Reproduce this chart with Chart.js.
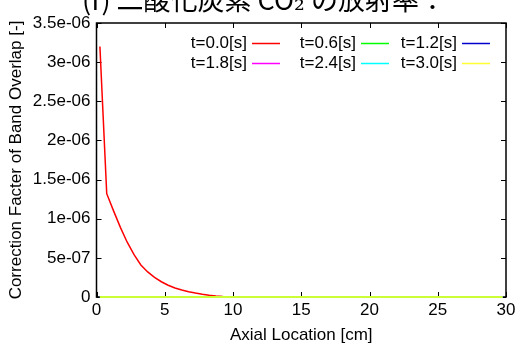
<!DOCTYPE html>
<html>
<head>
<meta charset="utf-8">
<script src="https://cdn.jsdelivr.net/npm/chart.js@4.4.0/dist/chart.umd.min.js"></script>
<style>
  html, body { margin: 0; padding: 0; background: #fff; }
  #wrap { width: 521px; height: 347px; position: relative; }
</style>
</head>
<body>
<div id="wrap"><canvas id="bandChart"></canvas></div>
<script>
// axial positions [cm]
const axialPos = [];
for (let k = 0; k < 60; k++) axialPos.push(0.25 + 0.5 * k);

// correction factor at t=0.0 s, nonzero only near the inlet
const corrT00 = [
  3.2e-6, 1.32e-6, 1.10e-6, 0.89e-6, 0.70e-6, 0.54e-6, 0.41e-6, 0.32e-6,
  0.25e-6, 0.195e-6, 0.150e-6, 0.115e-6, 0.090e-6, 0.068e-6, 0.050e-6,
  0.034e-6, 0.023e-6, 0.014e-6, 0.007e-6, 0.002e-6
];
// later times are zero along the whole tube
const corrZero = axialPos.map(() => 0);

const seriesLabels = ['t=0.0[s]', 't=0.6[s]', 't=1.2[s]', 't=1.8[s]', 't=2.4[s]', 't=3.0[s]'];
const seriesColors = ['#ff0000', '#00ff00', '#0000cc', '#ff00ff', '#00ffff', 'rgba(255,255,0,0.8)'];

const yTickLabels = ['0', '5e-07', '1e-06', '1.5e-06', '2e-06', '2.5e-06', '3e-06', '3.5e-06'];
const xTickLabels = ['0', '5', '10', '15', '20', '25', '30'];

const titleText = '(f) 二酸化炭素 CO₂ の放射率：';

function pts(vals) {
  return axialPos.map((x, i) => ({ x: x, y: i < vals.length ? vals[i] : 0 }));
}
const seriesValues = [corrT00, corrZero, corrZero, corrZero, corrZero, corrZero];

const FONT = '"Liberation Sans", Arial, sans-serif';

// box frame with inward ticks on all four sides, gnuplot style
const frameTicks = {
  id: 'frameTicks',
  beforeDatasetsDraw(chart) {
    const { ctx, chartArea: a, scales } = chart;
    ctx.save();
    ctx.strokeStyle = '#000';
    ctx.lineWidth = 1;
    const len = 5;
    scales.x.ticks.forEach(t => {
      const px = Math.round(scales.x.getPixelForValue(t.value)) + 0.5;
      ctx.beginPath();
      ctx.moveTo(px, a.bottom); ctx.lineTo(px, a.bottom - len);
      ctx.moveTo(px, a.top); ctx.lineTo(px, a.top + len);
      ctx.stroke();
    });
    scales.y.ticks.forEach(t => {
      const py = Math.round(scales.y.getPixelForValue(t.value)) + 0.5;
      ctx.beginPath();
      ctx.moveTo(a.left, py); ctx.lineTo(a.left + len, py);
      ctx.moveTo(a.right, py); ctx.lineTo(a.right - len, py);
      ctx.stroke();
    });
    ctx.lineWidth = 1.5;
    ctx.strokeRect(a.left, a.top, a.right - a.left, a.bottom - a.top);
    ctx.restore();
  }
};

// legend inside the plot: label then a short line sample, 3 columns x 2 rows
const keyBox = {
  id: 'keyBox',
  afterDatasetsDraw(chart) {
    const { ctx } = chart;
    const colRight = [247, 356, 457];
    const rowY = [43, 63];
    ctx.save();
    ctx.font = '17px ' + FONT;
    ctx.textAlign = 'right';
    ctx.textBaseline = 'middle';
    chart.data.datasets.forEach((ds, i) => {
      const c = i % 3, r = Math.floor(i / 3);
      const x = colRight[c], y = rowY[r];
      ctx.fillStyle = '#000';
      ctx.fillText(ds.label, x, y);
      ctx.strokeStyle = ds.borderColor;
      ctx.lineWidth = 1.5;
      ctx.beginPath();
      ctx.moveTo(x + 5, y + 0.5);
      ctx.lineTo(x + 33, y + 0.5);
      ctx.stroke();
    });
    ctx.restore();
  }
};

// heading sits partly above the canvas edge
const heading = {
  id: 'heading',
  afterDraw(chart) {
    const { ctx } = chart;
    ctx.save();
    ctx.font = '27px "Noto Sans CJK JP", "DejaVu Serif", serif';
    ctx.fillStyle = '#000';
    ctx.textAlign = 'left';
    ctx.textBaseline = 'alphabetic';
    ctx.fillText(titleText, 82, 10);
    ctx.restore();
  }
};

new Chart(document.getElementById('bandChart'), {
  type: 'line',
  data: {
    datasets: seriesValues.map((vals, i) => ({
      label: seriesLabels[i],
      data: pts(vals),
      borderColor: seriesColors[i],
      borderWidth: i === 0 ? 1.5 : 2,
      pointRadius: 0,
      tension: 0,
      fill: false,
      clip: false,
      // later series are drawn over earlier ones, t=3.0 ends up on top
      order: seriesLabels.length - i
    }))
  },
  options: {
    responsive: true,
    maintainAspectRatio: false,
    animation: false,
    layout: { padding: { top: 23, right: 15, left: 0, bottom: 0 } },
    plugins: {
      legend: { display: false },
      tooltip: { enabled: false }
    },
    scales: {
      x: {
        type: 'linear',
        min: 0,
        max: 30,
        afterFit(s) { s.height = 50; },
        afterBuildTicks(s) { s.ticks = xTickLabels.map(v => ({ value: Number(v) })); },
        grid: { display: false, drawTicks: false },
        border: { display: false },
        ticks: {
          padding: 3,
          color: '#000',
          font: { family: FONT, size: 17 },
          callback: (v, i) => xTickLabels[i]
        },
        title: {
          display: true,
          text: 'Axial Location [cm]',
          color: '#000',
          font: { family: FONT, size: 17 },
          padding: { top: 1, bottom: 1 }
        }
      },
      y: {
        type: 'linear',
        min: 0,
        max: 3.5e-6,
        afterFit(s) { s.width = 96.5; },
        afterBuildTicks(s) { s.ticks = yTickLabels.map((_, i) => ({ value: i * 5e-7 })); },
        grid: { display: false, drawTicks: false },
        border: { display: false },
        ticks: {
          padding: 6,
          color: '#000',
          font: { family: FONT, size: 17 },
          callback: (v, i) => yTickLabels[i]
        },
        title: {
          display: true,
          text: 'Correction Facter of Band Overlap [-]',
          color: '#000',
          font: { family: FONT, size: 17 },
          padding: { top: 6, bottom: 0 }
        }
      }
    }
  },
  plugins: [frameTicks, keyBox, heading]
});
</script>
</body>
</html>
